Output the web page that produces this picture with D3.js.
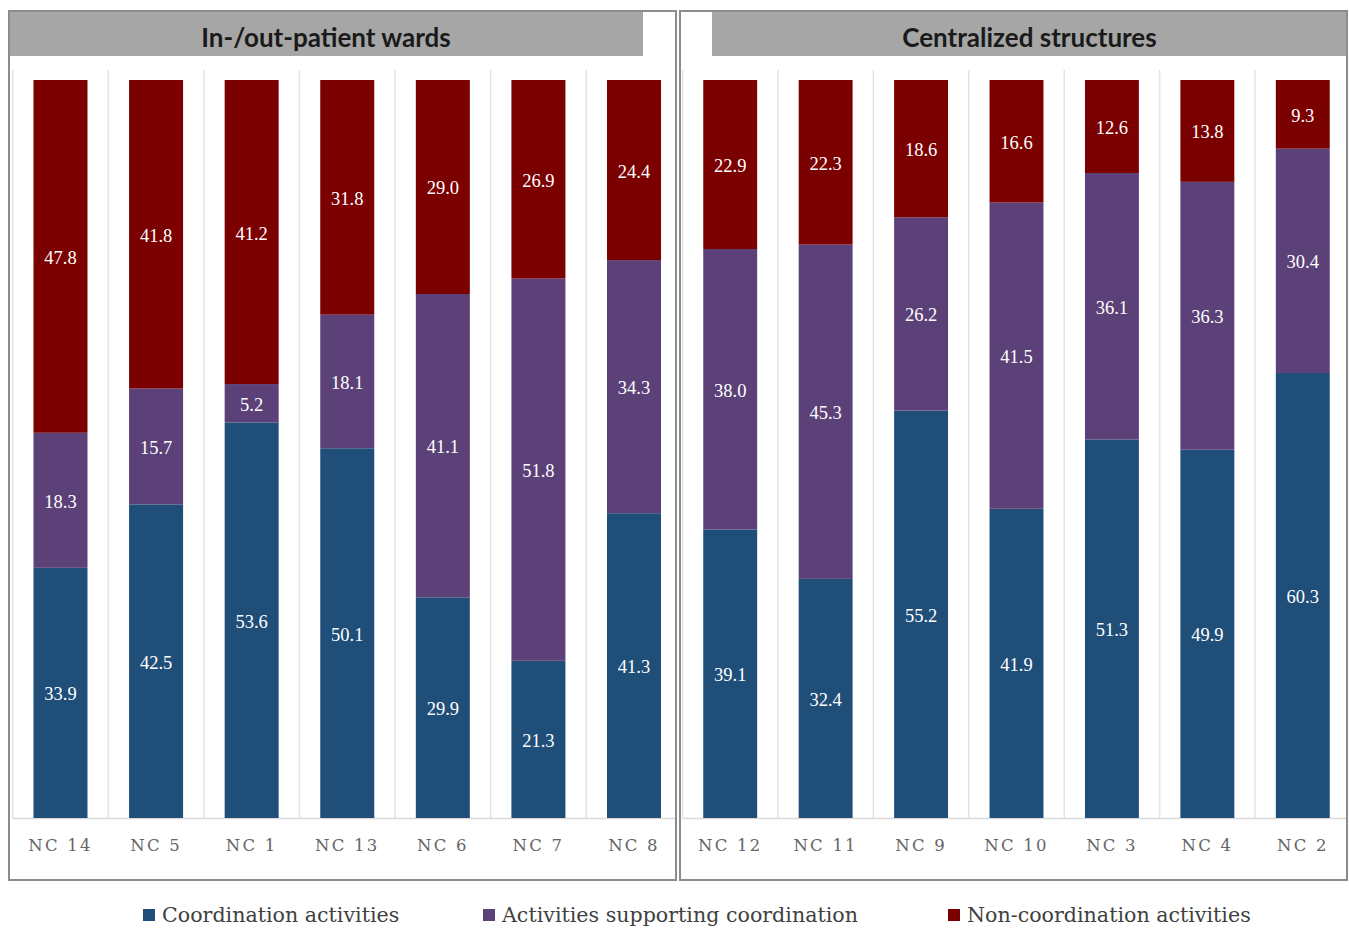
<!DOCTYPE html>
<html>
<head>
<meta charset="utf-8">
<script src="https://cdn.jsdelivr.net/npm/d3@7"></script>
<style>
  body { margin: 0; background: #fff; }
  svg { display: block; }
</style>
</head>
<body>
<div id="chart"></div>
<script>
// Data (percent of time per nursing context)
var seriesNames = ["Coordination activities", "Activities supporting coordination", "Non-coordination activities"];
var seriesColors = ["#1f4e79", "#5b4177", "#7b0000"];

var wardCats = ["NC 14", "NC 5", "NC 1", "NC 13", "NC 6", "NC 7", "NC 8"];
var wardCoord = [33.9, 42.5, 53.6, 50.1, 29.9, 21.3, 41.3];
var wardSupport = [18.3, 15.7, 5.2, 18.1, 41.1, 51.8, 34.3];
var wardNon = [47.8, 41.8, 41.2, 31.8, 29.0, 26.9, 24.4];

var centralCats = ["NC 12", "NC 11", "NC 9", "NC 10", "NC 3", "NC 4", "NC 2"];
var centralCoord = [39.1, 32.4, 55.2, 41.9, 51.3, 49.9, 60.3];
var centralSupport = [38.0, 45.3, 26.2, 41.5, 36.1, 36.3, 30.4];
var centralNon = [22.9, 22.3, 18.6, 16.6, 12.6, 13.8, 9.3];

var width = 1349, height = 929;

var svg = d3.select("#chart").append("svg")
    .attr("width", width)
    .attr("height", height);

// Shared y scale (0-100%)
var y = d3.scaleLinear()
    .domain([0, 100])
    .range([818, 80]);

var keys = ["coord", "support", "non"];
var stack = d3.stack().keys(keys);

var serif = "'Liberation Serif', 'DejaVu Serif', serif";
var wideSerif = "'DejaVu Serif', 'Liberation Serif', serif";

// Panel definitions
var panels = [
    {
        title: "In-/out-patient wards",
        cats: wardCats, coord: wardCoord, support: wardSupport, non: wardNon,
        box: [9, 11, 676, 880], header: [9, 643], range: [12.7, 681.8]
    },
    {
        title: "Centralized structures",
        cats: centralCats, coord: centralCoord, support: centralSupport, non: centralNon,
        box: [680, 11, 1347, 880], header: [712, 1347], range: [682.5, 1350.5]
    }
];

panels.forEach(function (p) {
    var g = svg.append("g");

    var rows = p.cats.map(function (c, i) {
        return {cat: c, coord: p.coord[i], support: p.support[i], non: p.non[i]};
    });

    var x = d3.scaleBand()
        .domain(p.cats)
        .range(p.range)
        .paddingInner(0.435)
        .paddingOuter(0.2175);

    var step = x.step();

    // header bar
    g.append("rect")
        .attr("x", p.header[0])
        .attr("y", p.box[1])
        .attr("width", p.header[1] - p.header[0])
        .attr("height", 45)
        .attr("fill", "#a6a6a6");

    g.append("text")
        .attr("x", (p.header[0] + p.header[1]) / 2)
        .attr("y", 47)
        .attr("text-anchor", "middle")
        .attr("font-family", "Lato, 'Open Sans', sans-serif")
        .attr("font-weight", "bold")
        .attr("font-size", "26px")
        .attr("fill", "#1a1a1a")
        .text(p.title);

    // vertical separators between categories
    g.selectAll(".sep")
        .data(p.cats)
        .enter().append("line")
        .attr("class", "sep")
        .attr("x1", function (d) { return x(d) - (step - x.bandwidth()) / 2; })
        .attr("x2", function (d) { return x(d) - (step - x.bandwidth()) / 2; })
        .attr("y1", 70)
        .attr("y2", 818)
        .attr("stroke", "#e3e3e3")
        .attr("stroke-width", 1.5);

    // baseline
    g.append("line")
        .attr("x1", p.range[0])
        .attr("x2", p.box[2])
        .attr("y1", y(0) + 0.5)
        .attr("y2", y(0) + 0.5)
        .attr("stroke", "#d9d9d9")
        .attr("stroke-width", 1.5);

    var layers = g.selectAll(".layer")
        .data(stack(rows))
        .enter().append("g")
        .attr("class", "layer")
        .attr("fill", function (d, i) { return seriesColors[i]; });

    layers.selectAll("rect")
        .data(function (d) { return d; })
        .enter().append("rect")
        .attr("x", function (d) { return x(d.data.cat); })
        .attr("width", x.bandwidth())
        .attr("y", function (d) { return y(d[1]); })
        .attr("height", function (d) { return y(d[0]) - y(d[1]); });

    layers.selectAll("text")
        .data(function (d) { return d; })
        .enter().append("text")
        .attr("x", function (d) { return x(d.data.cat) + x.bandwidth() / 2; })
        .attr("y", function (d) { return (y(d[0]) + y(d[1])) / 2 + 1; })
        .attr("dy", "0.35em")
        .attr("text-anchor", "middle")
        .attr("font-family", serif)
        .attr("font-size", "18.5px")
        .attr("fill", "#ffffff")
        .text(function (d) { return (d[1] - d[0]).toFixed(1); });

    // category axis
    var axis = g.append("g")
        .attr("transform", "translate(0,818)")
        .call(d3.axisBottom(x).tickSize(0).tickPadding(21));
    axis.select(".domain").remove();
    axis.selectAll("text")
        .attr("font-family", wideSerif)
        .attr("font-size", "16.5px")
        .attr("letter-spacing", "2.2px")
        .attr("fill", "#666666");

    // panel border
    g.append("rect")
        .attr("x", p.box[0])
        .attr("y", p.box[1])
        .attr("width", p.box[2] - p.box[0])
        .attr("height", p.box[3] - p.box[1])
        .attr("fill", "none")
        .attr("stroke", "#8c8c8c")
        .attr("stroke-width", 2);
});

// Legend
var legendX = [143, 483, 948];
var legend = svg.append("g");
seriesNames.forEach(function (name, i) {
    var row = legend.append("g")
        .attr("transform", "translate(" + legendX[i] + ",909)");
    row.append("rect")
        .attr("width", 12)
        .attr("height", 12)
        .attr("fill", seriesColors[i]);
    row.append("text")
        .attr("x", 19)
        .attr("y", 13)
        .attr("font-family", wideSerif)
        .attr("font-size", "20.6px")
        .attr("fill", "#404040")
        .text(name);
});
</script>
</body>
</html>
